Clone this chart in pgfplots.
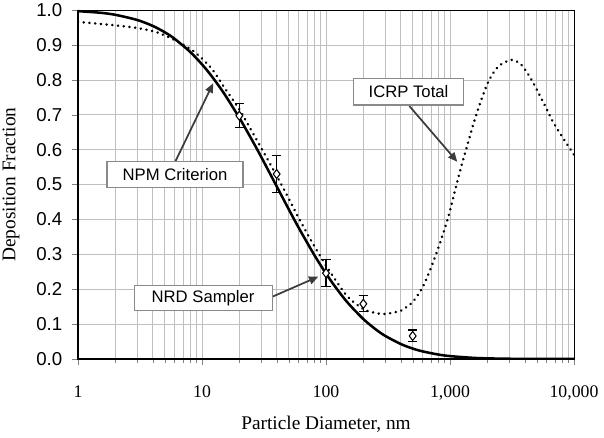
\documentclass[border=0pt]{standalone}
\usepackage{fontspec}
\setmainfont{Liberation Serif}
\setsansfont{Liberation Sans}
\usepackage{pgfplots}
\pgfplotsset{compat=1.18}
\usetikzlibrary{arrows.meta}
\definecolor{arrowgray}{HTML}{3C3C3C}
\definecolor{boxgray}{HTML}{8A8A8A}

\begin{document}
\begin{tikzpicture}
\begin{axis}[
  scale only axis, width=372pt, height=261.75pt,
  xmode=log,
  xmin=1, xmax=10000, ymin=0, ymax=1,
  xtick={1,10,100,1000,10000},
  xticklabels={1,10,100,{1,000},{10,000}},
  ytick={0,0.1,0.2,0.3,0.4,0.5,0.6,0.7,0.8,0.9,1.0},
  yticklabel style={font=\fontsize{14}{14}\sffamily, xshift=-4pt,
    /pgf/number format/.cd, fixed, fixed zerofill, precision=1, assume math mode=true},
  xticklabel style={font=\fontsize{13.3}{14}\selectfont, yshift=-12pt},
  grid=both,
  tick align=outside,
  tick pos=left,
  xlabel={Particle Diameter, nm},
  ylabel={Deposition Fraction},
  label style={font=\fontsize{14.5}{16}\selectfont},
  xlabel style={at={(axis description cs:0.5,-0.188)}, anchor=center},
  ylabel style={at={(axis description cs:-0.135,0.5)}, anchor=center},
]
% ICRP total deposition
\addplot[black, line width=2.1pt, line cap=round, dash pattern=on 0.01pt off 4.3pt, smooth]
coordinates {
  (1,0.966) (1.86,0.957) (3.05,0.948) (4.42,0.935) (6.4,0.909) (8.7,0.880)
  (11.9,0.833) (15,0.780) (20,0.715) (25,0.655) (30,0.605) (40,0.525)
  (50,0.460) (60,0.405) (80,0.325) (100,0.268) (120,0.225) (150,0.178)
  (200,0.143) (250,0.132) (300,0.129) (400,0.138) (450,0.150) (500,0.163)
  (600,0.205) (700,0.260) (830,0.332) (970,0.408) (1100,0.484) (1240,0.555)
  (1360,0.605) (1540,0.672) (1750,0.733) (2040,0.795) (2450,0.838) (3140,0.857)
  (3780,0.842) (4560,0.799) (5660,0.735) (6810,0.678) (8200,0.632) (10000,0.585)
};
% NPM criterion
\addplot[black, line width=1.9pt, smooth]
coordinates {
  (1,0.9967) (1.5,0.9922) (2,0.9862) (3,0.9714) (4,0.9545) (5,0.9364)
  (6,0.9177) (8,0.8804) (10,0.8442) (12,0.8098) (15,0.7618) (20,0.6911)
  (25,0.6308) (30,0.5793) (40,0.4948) (50,0.4294) (60,0.3771) (80,0.2995)
  (100,0.2448) (120,0.2047) (150,0.1608) (200,0.1145) (250,0.0857) (300,0.0663)
  (400,0.0431) (500,0.0299) (600,0.0219) (800,0.0129) (1000,0.0083) (1500,0.0035)
  (2000,0.0018) (3000,0.0007) (5000,0.0001) (10000,0)
};
% NRD sampler measurements
\addplot[black, only marks, mark=diamond*, mark size=3.4pt,
  mark options={fill=white, draw=black, line width=0.8pt},
  error bars/.cd, y dir=both, y explicit,
  error bar style={black, line width=0.9pt},
  error mark options={rotate=90, mark size=3.6pt, line width=0.9pt, black}]
coordinates {
  (20,0.697) +- (0,0.034)
  (40,0.530) +- (0,0.053)
  (100,0.246) +- (0,0.039)
  (200,0.158) +- (0,0.023)
  (500,0.066) +- (0,0.017)
};
\coordinate (ll) at (rel axis cs:0,0);
\coordinate (ur) at (rel axis cs:1,1);
\coordinate (ul) at (rel axis cs:0,1);
\coordinate (lr) at (rel axis cs:1,0);
% callouts
\draw[arrowgray, line width=1.3pt, -{Triangle[length=7pt,width=6pt]}]
  (axis cs:6.06,0.564) -- (axis cs:12.3,0.790);
\draw[arrowgray, line width=1.3pt, -{Triangle[length=7pt,width=6pt]}]
  (axis cs:470,0.725) -- (axis cs:1145,0.565);
\draw[arrowgray, line width=1.3pt, -{Triangle[length=7pt,width=6pt]}]
  (axis cs:36.7,0.178) -- (axis cs:86.7,0.236);
\node[draw=boxgray, fill=white, line width=0.8pt, minimum width=102pt, minimum height=19pt,
  inner sep=0pt, font=\fontsize{12.5}{13}\sffamily] at (axis cs:6.06,0.529) {NPM Criterion};
\node[draw=boxgray, fill=white, line width=0.8pt, minimum width=83pt, minimum height=20pt,
  inner sep=0pt, font=\fontsize{12.5}{13}\sffamily] at (axis cs:463,0.766) {ICRP Total};
\node[draw=boxgray, fill=white, line width=0.8pt, minimum width=103.5pt, minimum height=19pt,
  inner sep=0pt, font=\fontsize{12.5}{13}\sffamily] at (axis cs:10.2,0.174) {NRD Sampler};
\end{axis}
\draw[black, line width=1.6pt] (ul) -- (ll) -- (lr);
\pgfresetboundingbox
\path ([shift={(-58.5pt,-59.25pt)}]ll) rectangle ([shift={(22.5pt,7.5pt)}]ur);
\end{tikzpicture}
\end{document}
